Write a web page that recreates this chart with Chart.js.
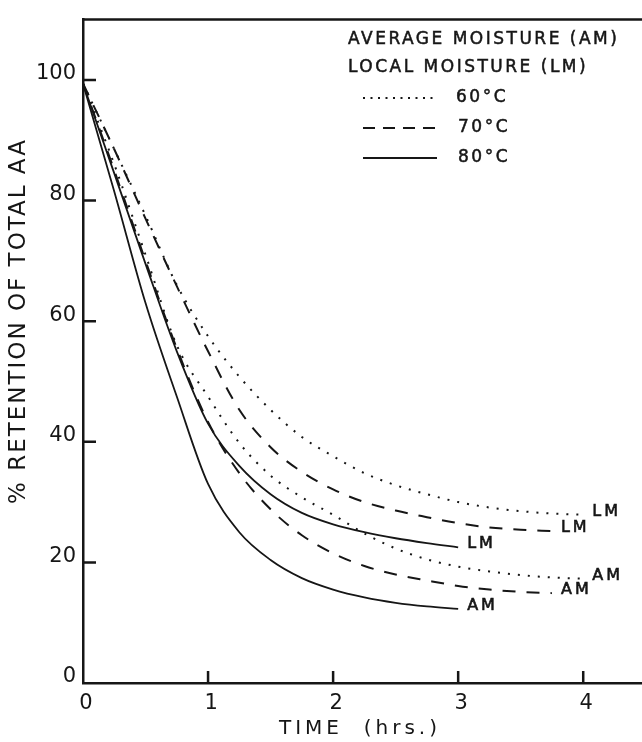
<!DOCTYPE html>
<html>
<head>
<meta charset="utf-8">
<title>% Retention of total AA</title>
<script src="https://cdn.jsdelivr.net/npm/chart.js@4.4.1/dist/chart.umd.min.js"></script>
<style>
  html, body { margin: 0; padding: 0; background: #fff; }
  #wrap { width: 642px; height: 742px; }
</style>
</head>
<body>
<div id="wrap"><canvas id="retentionChart" width="642" height="742"></canvas></div>
<script>
// sampling times in hours, shared by all six curves
var hours = [0, 0.25, 0.5, 0.75, 1, 1.25, 1.5, 1.75, 2, 2.25, 2.5, 2.75, 3, 3.25, 3.5, 3.75, 4];

// % retention of total AA; each curve stops where its run ended
var lm60 = [99.4, 88.5, 77.5, 66, 57.5, 50.8, 45.3, 40.8, 37.6, 34.8, 32.8, 31.3, 30, 29.1, 28.5, 28.1, 27.9];
var am60 = [99.4, 86, 71, 56, 47.5, 39.8, 34.4, 30.8, 27.9, 24.8, 22.3, 20.5, 19.3, 18.5, 17.9, 17.5, 17.3];
var lm70 = [99.4, 88.5, 77, 65.8, 55, 45.3, 39.1, 35, 32.1, 30, 28.6, 27.5, 26.5, 25.8, 25.4, 25.2];
var am70 = [99.4, 85, 70, 55.5, 43.3, 34.8, 28.8, 24.5, 21.5, 19.4, 18, 17, 16.1, 15.5, 15.1, 14.9];
var lm80 = [99.4, 84.5, 69.5, 55, 43, 36, 31.3, 28.2, 26.3, 25, 24, 23.2, 22.5];
var am80 = [99.4, 81.5, 63, 47.5, 33, 25, 20.4, 17.4, 15.5, 14.2, 13.3, 12.7, 12.3];

var temps = ["60°C", "70°C", "80°C"];
var legendHeader = ["AVERAGE MOISTURE (AM)", "LOCAL MOISTURE (LM)"];

var INK = "#161616";
var FONT = "'DejaVu Sans', 'Liberation Sans', sans-serif";

// line style per temperature: dotted, dashed, solid
var tempStyle = {
  "60°C": { dash: [2, 8], legendDash: [2, 5.5], width: 2 },
  "70°C": { dash: [13, 11], legendDash: [12, 8], width: 2 },
  "80°C": { dash: [], legendDash: [], width: 1.8 }
};

function curve(values, temp, tag) {
  var st = tempStyle[temp];
  return {
    label: tag + " " + temp,
    tag: tag,
    data: values.map(function (v, i) { return { x: hours[i], y: v }; }),
    borderColor: INK,
    borderWidth: st.width,
    borderDash: st.dash,
    borderCapStyle: "butt",
    pointRadius: 0,
    fill: false,
    cubicInterpolationMode: "monotone"
  };
}

function spaced(ctx, px) {
  if ("letterSpacing" in ctx) ctx.letterSpacing = px + "px";
}

// slightly heavier lettering for the key and the curve tags
function inkText(ctx, text, x, y) {
  ctx.fillText(text, x, y);
  ctx.strokeText(text, x, y);
}

// frame, inward ticks, axis titles, curve tags and the key
var annotations = {
  id: "annotations",
  afterDraw: function (chart) {
    var ctx = chart.ctx;
    var area = chart.chartArea;
    var xs = chart.scales.x, ys = chart.scales.y;
    ctx.save();
    ctx.strokeStyle = INK;
    ctx.fillStyle = INK;

    // top edge of the frame
    ctx.lineWidth = 2.5;
    ctx.beginPath();
    ctx.moveTo(area.left - 1, area.top);
    ctx.lineTo(area.right, area.top);
    ctx.stroke();

    // tick marks pointing into the plot
    ctx.beginPath();
    xs.ticks.forEach(function (t) {
      if (t.value === 0) return;
      var px = xs.getPixelForValue(t.value);
      ctx.moveTo(px, area.bottom);
      ctx.lineTo(px, area.bottom - 12);
    });
    ys.ticks.forEach(function (t) {
      if (t.value === 0) return;
      var py = ys.getPixelForValue(t.value);
      ctx.moveTo(area.left, py);
      ctx.lineTo(area.left + 13, py);
    });
    ctx.stroke();

    // axis titles
    ctx.textAlign = "center";
    ctx.textBaseline = "middle";
    ctx.font = "20px " + FONT;
    spaced(ctx, 4);
    ctx.fillText("TIME  (hrs.)", 360, 729);

    ctx.save();
    ctx.translate(19, 321);
    ctx.rotate(-Math.PI / 2);
    ctx.font = "23px " + FONT;
    spaced(ctx, 2);
    ctx.fillText("% RETENTION OF TOTAL AA", 0, 0);
    ctx.restore();

    // AM / LM tag at the end of every curve
    ctx.textAlign = "left";
    ctx.lineWidth = 0.6;
    ctx.font = "16px " + FONT;
    spaced(ctx, 3);
    chart.data.datasets.forEach(function (ds, i) {
      var pts = chart.getDatasetMeta(i).data;
      var last = pts[pts.length - 1];
      inkText(ctx, ds.tag, last.x + 9, last.y - 3);
    });

    // key
    ctx.font = "17px " + FONT;
    spaced(ctx, 2.5);
    ctx.lineWidth = 0.5;
    inkText(ctx, legendHeader[0], 348, 40);
    inkText(ctx, legendHeader[1], 348, 68);
    temps.forEach(function (temp, i) {
      var st = tempStyle[temp];
      var yy = 98 + i * 30;
      ctx.lineWidth = st.width;
      ctx.setLineDash(st.legendDash);
      ctx.beginPath();
      ctx.moveTo(363, yy);
      ctx.lineTo(437, yy);
      ctx.stroke();
      ctx.setLineDash([]);
      ctx.lineWidth = 0.5;
      inkText(ctx, temp, i === 0 ? 456 : 458, yy);
    });

    ctx.restore();
  }
};

var tickFont = { family: FONT, size: 21 };

new Chart(document.getElementById("retentionChart"), {
  type: "line",
  data: {
    datasets: [
      curve(lm60, "60°C", "LM"),
      curve(am60, "60°C", "AM"),
      curve(lm70, "70°C", "LM"),
      curve(am70, "70°C", "AM"),
      curve(lm80, "80°C", "LM"),
      curve(am80, "80°C", "AM")
    ]
  },
  options: {
    responsive: false,
    animation: false,
    devicePixelRatio: 1,
    layout: { padding: { top: 10, right: 0, left: 0, bottom: 0 } },
    plugins: {
      legend: { display: false },
      tooltip: { enabled: false }
    },
    scales: {
      x: {
        type: "linear",
        min: 0,
        max: 4.47,
        grid: { display: false, drawTicks: false },
        border: { display: true, width: 2.5, color: INK },
        ticks: { stepSize: 1, includeBounds: false, padding: 8, labelOffset: 3, color: INK, font: tickFont },
        afterFit: function (s) { s.height = 59; }
      },
      y: {
        min: 0,
        max: 110,
        grid: { display: false, drawTicks: false },
        border: { display: true, width: 2.5, color: INK },
        ticks: { stepSize: 20, includeBounds: false, padding: 7, labelOffset: -6, color: INK, font: tickFont },
        afterFit: function (s) { s.width = 83; }
      }
    }
  },
  plugins: [annotations]
});
</script>
</body>
</html>
